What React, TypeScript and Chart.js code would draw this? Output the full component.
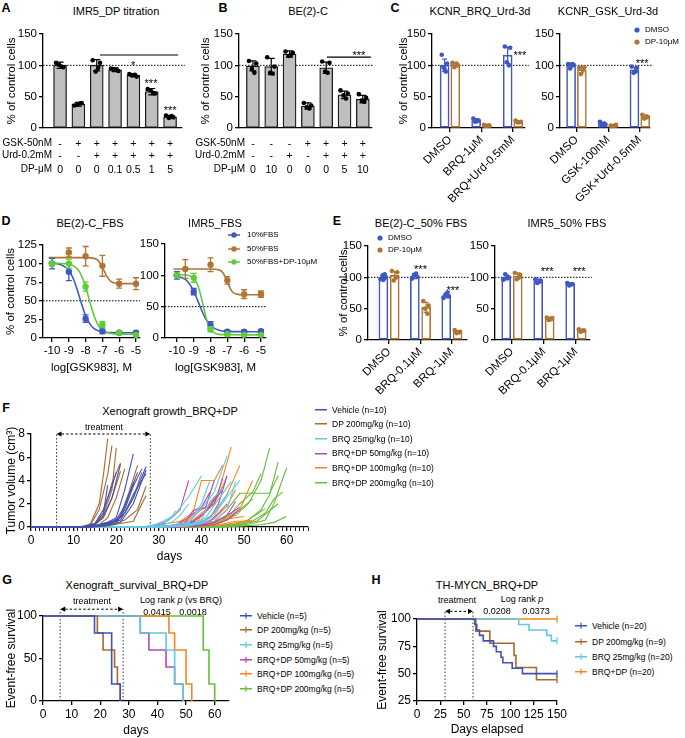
import React, { useEffect, useRef } from 'react';
import { Chart, registerables } from 'chart.js';

Chart.register(...registerables);

const FONT = '"Liberation Sans", Arial, Helvetica, sans-serif';

/* ====================== DATA ====================== */
// Panel A – IMR5_DP titration
const A_GSK = ['-', '+', '+', '+', '+', '+', '+'];
const A_URD = ['-', '-', '+', '+', '+', '+', '+'];
const A_DP = ['0', '0', '0', '0.1', '0.5', '1', '5'];
const A_MEAN = [100, 38, 100, 93, 84, 58, 18];
const A_SD = [5, 3, 9, 3, 2, 5, 2];
const A_DOTS = [[104, 97, 101, 98], [36, 40, 37, 39], [108, 104, 90, 96], [95, 91, 94, 93], [86, 82, 84, 85], [62, 55, 60, 56], [20, 17, 16, 19]];

// Panel B – BE(2)-C
const B_GSK = ['-', '-', '-', '+', '+', '+', '+'];
const B_URD = ['-', '-', '+', '-', '+', '+', '+'];
const B_DP = ['0', '10', '0', '0', '0', '5', '10'];
const B_MEAN = [99, 98, 118, 35, 96, 53, 46];
const B_SD = [8, 13, 5, 5, 9, 6, 6];
const B_DOTS = [[107, 103, 94, 88], [113, 98, 88, 87], [122, 120, 115, 117], [40, 36, 33, 31], [106, 104, 90, 88], [60, 55, 52, 47], [54, 48, 44, 42]];

const PCT_TICKS = [0, 50, 100, 150];

// Panel C
const C1_CATS = ['DMSO', 'BRQ-1μM', 'BRQ+Urd-0.5mM'];
const C1_DMSO = [100, 12, 116];
const C1_DMSO_SD = [10, 3, 13];
const C1_DMSO_DOTS = [[117, 103, 97, 90, 94], [15, 12, 10, 11], [130, 128, 105, 100]];
const C1_DP = [101, 4, 10];
const C1_DP_SD = [3, 1, 2];
const C1_DP_DOTS = [[104, 100, 97, 103], [5, 4, 3, 4], [12, 10, 9, 9]];
const C2_CATS = ['DMSO', 'GSK-100nM', 'GSK+Urd-0.5mM'];
const C2_DMSO = [100, 7, 93];
const C2_DMSO_SD = [3, 2, 4];
const C2_DMSO_DOTS = [[102, 101, 95, 102], [10, 6, 5, 7], [98, 96, 88, 90]];
const C2_DP = [93, 4, 18];
const C2_DP_SD = [5, 1, 3];
const C2_DP_DOTS = [[96, 97, 86, 93], [4, 5, 3, 4], [21, 18, 15, 17]];

// Panel D
const D_X = [-10, -9, -8, -7, -6, -5];
const D1_YTICKS = [0, 25, 50, 75, 100, 125];
const D1_BLUE = [100, 89, 26, 9, 7, 7];
const D1_BLUE_SD = [7, 12, 5, 3, 2, 2];
const D1_BROWN_X = [-9, -8, -7, -6, -5];
const D1_BROWN = [115, 110, 97, 73, 73];
const D1_BROWN_SD = [6, 13, 14, 6, 8];
const D1_GREEN = [100, 100, 69, 18, 7, 4];
const D1_GREEN_SD = [3, 6, 6, 4, 2, 1];
const D1_BLUE_FIT_X = [-10.2, -9.5, -9, -8.75, -8.5, -8.25, -8, -7.75, -7.5, -7, -6, -4.9];
const D1_BLUE_FIT = [100.8, 98.7, 90.7, 80.7, 65, 46.5, 30, 19, 12.7, 8.2, 7, 7];
const D1_GREEN_FIT_X = [-10.2, -9, -8.5, -8.25, -8, -7.75, -7.5, -7.25, -7, -6.5, -6, -4.9];
const D1_GREEN_FIT = [101, 99.5, 93, 84, 69, 49, 30, 17.5, 10.7, 6.1, 5.2, 5];
const D1_BROWN_FIT_X = [-10.2, -8, -7.5, -7.25, -7, -6.75, -6.5, -6.25, -6, -4.9];
const D1_BROWN_FIT = [108, 108, 107, 104, 95.4, 83.4, 76.2, 73.8, 73.3, 73];

const D2_BLUE = [100, 74, 21, 10, 10, 11];
const D2_BLUE_SD = [6, 5, 5, 2, 2, 2];
const D2_BROWN_X = [-9.5, -8, -7, -6, -5];
const D2_BROWN = [110, 117, 92, 70, 70];
const D2_BROWN_SD = [15, 11, 6, 7, 5];
const D2_GREEN = [100, 96, 14, 6, 5, 5];
const D2_GREEN_SD = [3, 7, 4, 2, 1, 1];
const D2_BLUE_FIT_X = [-10.2, -9.5, -9.25, -9, -8.75, -8.5, -8.25, -8, -7.5, -7, -4.9];
const D2_BLUE_FIT = [100, 93.4, 86.3, 74.7, 58.9, 42.3, 28.8, 20, 12.4, 10.6, 10];
const D2_GREEN_FIT_X = [-10.2, -9.25, -9, -8.75, -8.5, -8.25, -8, -7.75, -7.5, -7, -4.9];
const D2_GREEN_FIT = [101, 99.4, 95.4, 83.8, 59, 30.6, 13.9, 7.7, 5.8, 5.1, 5];
const D2_BROWN_FIT_X = [-10.2, -8, -7.5, -7.25, -7, -6.75, -6.5, -6, -4.9];
const D2_BROWN_FIT = [110, 110, 108.7, 103.8, 89.5, 75.2, 70.3, 69, 69];

// Panel E
const E_CATS = ['DMSO', 'BRQ-0.1μM', 'BRQ-1μM'];
const E1_DMSO = [100, 102, 71];
const E1_DMSO_SD = [3, 4, 4];
const E1_DMSO_DOTS = [[97, 100, 103, 105, 96], [98, 101, 104, 106], [67, 70, 72, 76]];
const E1_DP = [103, 52, 13];
const E1_DP_SD = [6, 8, 2];
const E1_DP_DOTS = [[110, 108, 95, 100], [62, 55, 50, 42], [16, 13, 11, 12]];
const E2_DMSO = [100, 94, 89];
const E2_DMSO_SD = [4, 3, 2];
const E2_DMSO_DOTS = [[96, 100, 105, 99], [97, 95, 91, 93], [91, 89, 87, 89]];
const E2_DP = [102, 34, 15];
const E2_DP_SD = [5, 2, 2];
const E2_DP_DOTS = [[107, 104, 97, 100], [36, 35, 32, 33], [17, 15, 13, 15]];

// Panel F – tumour volume, one [day, cm3] list per mouse
const F_VEHICLE = [
  [[0, 0], [10, 0], [13, 0.05], [15, 0.3], [17, 1.2], [18, 3.6]],
  [[0, 0], [12, 0], [15, 0.2], [17, 0.9], [19, 2.5], [21, 5.4]],
  [[0, 0], [12, 0], [15, 0.1], [18, 0.4], [20, 0.8], [22, 3.2], [24, 6.3]],
  [[0, 0], [13, 0], [16, 0.2], [19, 0.5], [21, 0.8], [23, 2.8], [25, 4.7]],
  [[0, 0], [13, 0], [16, 0.1], [19, 0.4], [21, 0.6], [24, 2.5], [27, 5.2]],
  [[0, 0], [14, 0], [17, 0.2], [20, 0.5], [22, 1.2], [24, 2.8], [27, 4.6]],
  [[0, 0], [12, 0], [15, 0.3], [17, 1.5], [19, 3.5], [20, 4.7]],
  [[0, 0], [14, 0], [17, 0.1], [20, 0.3], [22, 1.5], [24, 3.5], [26, 5.0]],
  [[0, 0], [13, 0], [16, 0.1], [19, 0.3], [21, 0.4], [24, 2.0], [27, 4.9]],
  [[0, 0], [14, 0], [17, 0.2], [20, 0.6], [22, 1.8], [24, 3.8]],
];
const F_DP200 = [
  [[0, 0], [11, 0], [14, 0.2], [16, 1.5], [18, 4.5], [19, 7.0]],
  [[0, 0], [12, 0], [14, 0.3], [16, 2.0], [17, 4.5], [18, 7.6]],
  [[0, 0], [12, 0], [15, 0.2], [17, 1.0], [19, 3.2], [20, 6.8]],
  [[0, 0], [13, 0], [16, 0.2], [18, 0.8], [20, 2.5], [22, 5.0]],
  [[0, 0], [13, 0], [16, 0.1], [19, 0.4], [21, 1.0], [23, 3.0], [25, 5.3]],
  [[0, 0], [14, 0], [17, 0.2], [20, 0.5], [22, 1.2], [24, 2.5], [26, 4.7]],
  [[0, 0], [14, 0], [17, 0.1], [20, 0.3], [22, 0.6], [25, 1.5], [27, 3.5]],
  [[0, 0], [15, 0], [18, 0.1], [21, 0.3], [24, 0.5], [27, 2.7]],
  [[0, 0], [13, 0], [15, 0.3], [17, 1.2], [19, 3.8], [21, 5.5]],
  [[0, 0], [12, 0], [15, 0.2], [17, 0.8], [19, 2.5], [21, 4.8]],
];
const F_BRQ25 = [
  [[0, 0], [26, 0], [29, 0.2], [31, 0.5], [33, 0.9], [34, 1.4]],
  [[0, 0], [27, 0], [30, 0.3], [32, 0.5], [34, 1.2], [37, 2.6], [40, 4.4]],
  [[0, 0], [28, 0], [32, 0.1], [35, 0.3], [37, 0.3], [40, 2.0], [42, 4.0]],
  [[0, 0], [28, 0], [33, 0.1], [37, 0.4], [40, 1.6], [43, 3.0], [46, 6.1]],
  [[0, 0], [30, 0], [35, 0.1], [38, 0.3], [41, 0.8], [44, 2.4], [47, 3.9]],
  [[0, 0], [30, 0], [36, 0.1], [40, 0.3], [43, 1.0], [46, 2.6], [49, 4.0]],
  [[0, 0], [29, 0], [34, 0.1], [37, 0.2], [40, 0.6], [42, 2.2], [45, 3.3]],
  [[0, 0], [27, 0], [31, 0.2], [33, 0.4], [35, 1.0], [37, 2.0]],
  [[0, 0], [32, 0], [37, 0.1], [40, 0.3], [43, 0.5], [46, 1.5], [48, 3.9]],
  [[0, 0], [31, 0], [36, 0.1], [40, 0.4], [42, 0.9], [44, 1.8], [46, 2.8]],
];
const F_BD50 = [
  [[0, 0], [28, 0], [31, 0.3], [33, 0.8], [35, 1.5], [37, 4.0]],
  [[0, 0], [30, 0], [34, 0.2], [37, 0.8], [39, 1.4], [41, 1.7], [43, 4.0]],
  [[0, 0], [32, 0], [36, 0.1], [39, 0.3], [42, 0.8], [44, 2.0], [46, 4.4]],
  [[0, 0], [33, 0], [38, 0.1], [42, 0.3], [45, 0.8], [47, 1.2], [49, 1.7]],
  [[0, 0], [30, 0], [35, 0.2], [38, 0.5], [41, 1.3], [43, 2.4], [45, 3.2]],
  [[0, 0], [34, 0], [39, 0.1], [42, 0.5], [44, 1.2], [46, 2.0]],
  [[0, 0], [31, 0], [35, 0.2], [38, 0.4], [40, 1.0], [43, 2.0], [45, 4.2]],
  [[0, 0], [33, 0], [37, 0.1], [40, 0.2], [43, 0.4], [46, 1.0], [48, 2.2]],
  [[0, 0], [29, 0], [33, 0.1], [36, 0.3], [38, 1.4], [40, 1.7], [42, 3.0]],
  [[0, 0], [35, 0], [40, 0.1], [43, 0.2], [46, 0.6], [49, 1.5]],
];
const F_BD100 = [
  [[0, 0], [28, 0], [32, 0.3], [35, 0.5], [38, 1.2], [40, 4.0], [43, 4.0], [45, 5.3]],
  [[0, 0], [30, 0], [35, 0.2], [38, 0.6], [41, 1.5], [44, 3.0], [47, 6.9]],
  [[0, 0], [32, 0], [37, 0.2], [40, 0.4], [43, 1.2], [46, 2.8], [49, 5.3]],
  [[0, 0], [34, 0], [39, 0.1], [43, 0.3], [46, 0.8], [49, 1.5], [52, 4.0]],
  [[0, 0], [35, 0], [40, 0.1], [44, 0.2], [48, 0.5], [50, 0.5], [52, 0.6]],
  [[0, 0], [31, 0], [36, 0.2], [39, 0.5], [42, 1.8], [44, 2.7], [46, 4.4]],
  [[0, 0], [33, 0], [38, 0.1], [42, 0.2], [45, 0.6], [48, 0.8], [50, 0.9]],
  [[0, 0], [29, 0], [34, 0.2], [37, 0.6], [40, 1.5], [43, 2.0], [45, 3.5]],
  [[0, 0], [36, 0], [41, 0.1], [45, 0.2], [49, 0.4], [52, 0.5]],
  [[0, 0], [32, 0], [37, 0.1], [40, 0.3], [43, 0.7], [46, 1.8], [48, 3.2]],
];
const F_BD200 = [
  [[0, 0], [35, 0], [40, 0.2], [43, 0.5], [46, 1.5], [49, 2.9], [56, 2.9], [58, 4.4]],
  [[0, 0], [38, 0], [42, 0.2], [45, 0.5], [48, 1.0], [51, 2.0], [54, 4.0], [56, 6.8]],
  [[0, 0], [36, 0], [41, 0.2], [44, 0.4], [47, 1.2], [49, 2.0], [52, 3.0], [54, 4.6]],
  [[0, 0], [40, 0], [44, 0.1], [48, 0.3], [51, 0.6], [54, 1.5], [56, 2.8], [58, 5.6]],
  [[0, 0], [42, 0], [47, 0.1], [50, 0.3], [53, 0.5], [56, 1.4], [58, 2.0]],
  [[0, 0], [45, 0], [50, 0.1], [54, 0.2], [57, 0.4], [60, 0.9]],
  [[0, 0], [43, 0], [48, 0.1], [52, 0.3], [55, 0.6], [57, 2.0], [60, 5.1]],
  [[0, 0], [39, 0], [43, 0.2], [46, 0.6], [49, 1.5], [52, 2.4]],
  [[0, 0], [44, 0], [49, 0.2], [52, 0.5], [55, 1.2], [57, 2.4], [59, 3.0]],
  [[0, 0], [41, 0], [46, 0.1], [50, 0.4], [53, 1.1], [55, 1.6]],
];
const F_YTICKS = [0, 2, 4, 6, 8];
const F_XLABELS = [0, 10, 20, 30, 40, 50, 60];
const F_XMAX = 65;

// Panel G – Kaplan-Meier [day, % event-free] at each event
const G_VEH = [[0, 100], [18, 80], [24, 20], [27, 0]];
const G_DP = [[0, 100], [19, 80], [21, 60], [25, 40], [26, 20], [27, 0]];
const G_BRQ = [[0, 100], [34, 80], [43, 60], [46, 20], [49, 0]];
const G_BD50 = [[0, 100], [34, 80], [37, 60], [43, 40], [46, 20], [49, 0]];
const G_BD100 = [[0, 100], [44, 80], [46, 60], [50, 20], [52, 0]];
const G_BD200 = [[0, 100], [56, 60], [58, 20], [60, 0]];
const G_YTICKS = [0, 50, 100];
const G_XTICKS = [0, 10, 20, 30, 40, 50, 60];

// Panel H
const H_VEH = [[0, 100], [62, 95], [64, 90], [67, 85], [71, 80], [82, 75], [85, 70], [90, 65], [92, 60], [102, 55], [113, 50], [150, 50]];
const H_DP = [[0, 100], [63, 88.9], [78, 77.8], [104, 66.7], [106, 55.6], [128, 44.4], [150, 44.4]];
const H_BRQ = [[0, 100], [109, 95], [120, 90], [139, 85], [144, 80], [150, 80]];
const H_BD = [[0, 100], [150, 100]];
const H_YTICKS = [25, 50, 75, 100];
const H_XTICKS = [0, 25, 50, 75, 100, 125, 150];

/* ====================== STYLE ====================== */
const BLUE = '#3f57c3';
const BROWN = '#b07434';
const DGREEN = '#5fcb3c';
const C_VEH = '#3e52b8';
const C_DP = '#a8692f';
const C_BRQ = '#63c9e3';
const C_B50 = '#b24ab0';
const C_B100 = '#f5861f';
const C_B200 = '#66bf3c';
const JIT_GRAY = [-0.22, 0.18, -0.06, 0.08];
const JIT_OPEN = [-0.09, 0.08, -0.03, 0.04, 0.0];

type Box = { L: number; T: number; R: number; B: number; yW: number; xH: number; pt?: number; pr?: number };
const A_BOX: Box = { L: 43, T: 34, R: 182, B: 128, yW: 38, xH: 10 };
const A_XR = [-0.93, 6.65];
const B_BOX: Box = { L: 239, T: 34, R: 372, B: 128, yW: 40, xH: 10 };
const B_XR = [-0.76, 6.5];
const C1_BOX: Box = { L: 432, T: 34, R: 525, B: 128, yW: 35, xH: 80 };
const C1_XR = [-0.57, 2.38];
const C2_BOX: Box = { L: 560, T: 34, R: 650, B: 128, yW: 30, xH: 80 };
const C2_XR = [-0.52, 2.32];
const D1_BOX: Box = { L: 43, T: 245, R: 140, B: 338, yW: 39, xH: 37 };
const D1_XR = [-10.54, -4.76];
const D2_BOX: Box = { L: 165, T: 244, R: 266, B: 338, yW: 30, xH: 37 };
const D2_XR = [-10.71, -4.7];
const E1_BOX: Box = { L: 368, T: 246, R: 467, B: 340, yW: 31, xH: 70 };
const E1_XR = [-0.67, 2.48];
const E2_BOX: Box = { L: 495, T: 246, R: 590, B: 340, yW: 30, xH: 70 };
const E2_XR = [-0.53, 2.44];
const F_BOX: Box = { L: 31, T: 434, R: 308, B: 527, yW: 27, xH: 37 };
const G_BOX: Box = { L: 43, T: 616, R: 229, B: 701, yW: 39, xH: 37 };
const H_BOX: Box = { L: 417, T: 619, R: 557, B: 701, yW: 42, xH: 36, pr: 12 };

/* ====================== HELPERS ====================== */
const pts = (xs: number[], ys: number[]) => xs.map((x, i) => ({ x, y: ys[i] }));
const pairs = (a: number[][]) => a.map(([x, y]) => ({ x, y }));

function drawItems(chart: any, items: any[]) {
  const ctx = chart.ctx;
  const xs = chart.scales.x, ys = chart.scales.y;
  const px = (v: number) => xs.getPixelForValue(v);
  const py = (v: number) => ys.getPixelForValue(v);
  for (const it of items) {
    ctx.save();
    ctx.strokeStyle = it.c || '#000';
    ctx.fillStyle = it.c || '#000';
    ctx.lineWidth = it.w || 1;
    if (it.t === 'line') {
      ctx.setLineDash(it.dash || []);
      ctx.beginPath();
      ctx.moveTo(px(it.x1), py(it.y1));
      ctx.lineTo(px(it.x2), py(it.y2));
      ctx.stroke();
    } else if (it.t === 'text') {
      const size = it.size || 11;
      ctx.font = `${size}px ${FONT}`;
      ctx.textAlign = 'center';
      ctx.textBaseline = 'alphabetic';
      ctx.fillText(it.s, px(it.x), py(it.y) + size * 0.6);
    } else if (it.t === 'arrow') {
      const x1 = px(it.x1), x2 = px(it.x2), y = py(it.y), hl = 5, hw = 2.6;
      ctx.setLineDash([2.5, 2]);
      ctx.beginPath();
      ctx.moveTo(x1 + hl, y);
      ctx.lineTo(x2 - hl, y);
      ctx.stroke();
      ctx.setLineDash([]);
      ctx.beginPath();
      ctx.moveTo(x1, y); ctx.lineTo(x1 + hl, y - hw); ctx.lineTo(x1 + hl, y + hw); ctx.closePath(); ctx.fill();
      ctx.beginPath();
      ctx.moveTo(x2, y); ctx.lineTo(x2 - hl, y - hw); ctx.lineTo(x2 - hl, y + hw); ctx.closePath(); ctx.fill();
    }
    ctx.restore();
  }
}

function drawErr(chart: any, args: any) {
  const ds: any = chart.data.datasets[args.index];
  if (!ds || !ds.err) return;
  const ctx = chart.ctx, ys = chart.scales.y;
  const c = (ds.cap || 6) / 2;
  ctx.save();
  ctx.strokeStyle = ds.errColor || '#000';
  ctx.lineWidth = ds.errWidth || 1.2;
  args.meta.data.forEach((el: any, i: number) => {
    const d = ds.data[i];
    const sd = ds.err[i];
    if (!el || sd == null) return;
    const x = el.x;
    const y1 = ys.getPixelForValue(d.y + sd), y2 = ys.getPixelForValue(d.y - sd);
    ctx.beginPath();
    ctx.moveTo(x, y1); ctx.lineTo(x, y2);
    ctx.moveTo(x - c, y1); ctx.lineTo(x + c, y1);
    ctx.moveTo(x - c, y2); ctx.lineTo(x + c, y2);
    ctx.stroke();
  });
  ctx.restore();
}

const extras = (under: any[] = [], over: any[] = []) => ({
  id: 'extras',
  beforeDatasetsDraw: (chart: any) => drawItems(chart, under),
  afterDatasetDraw: (chart: any, args: any) => drawErr(chart, args),
  afterDatasetsDraw: (chart: any) => drawItems(chart, over),
});

const yAxis = (ticks: number[], yW: number, title?: string, size = 11.5) => ({
  type: 'linear', position: 'left',
  min: ticks[0], max: ticks[ticks.length - 1],
  afterBuildTicks: (s: any) => { s.ticks = ticks.map((v) => ({ value: v })); },
  afterFit: (s: any) => { s.width = yW; },
  border: { display: true, color: '#000', width: 1.3 },
  grid: { display: true, drawOnChartArea: false, drawTicks: true, tickLength: 4, color: '#000', lineWidth: 1.3 },
  ticks: { color: '#000', font: { family: FONT, size }, padding: 2, autoSkip: false, callback: (v: number) => String(v) },
  title: title ? { display: true, text: title, color: '#000', font: { family: FONT, size }, padding: 0 } : { display: false },
});

const xBar = (xr: number[], xH: number, labels?: string[]) => ({
  type: 'linear', position: 'bottom', min: xr[0], max: xr[1], offset: false,
  ...(labels ? { afterBuildTicks: (s: any) => { s.ticks = labels.map((_, i) => ({ value: i })); } } : {}),
  afterFit: (s: any) => { s.height = xH; },
  border: { display: true, color: '#000', width: 1.3 },
  grid: { display: !!labels, offset: false, drawOnChartArea: false, drawTicks: true, tickLength: 4, color: '#000', lineWidth: 1.3 },
  ticks: {
    display: !!labels, autoSkip: false, minRotation: 45, maxRotation: 45, color: '#000',
    font: { family: FONT, size: 11.5 }, padding: 1,
    callback: (v: number) => (labels ? labels[Math.round(v)] : ''),
  },
});

const xNum = (min: number, max: number, ticks: number[], xH: number, title: string, size: number, labelSet?: number[]) => ({
  type: 'linear', position: 'bottom', min, max, offset: false,
  afterBuildTicks: (s: any) => { s.ticks = ticks.map((v) => ({ value: v })); },
  afterFit: (s: any) => { s.height = xH; },
  border: { display: true, color: '#000', width: 1.3 },
  grid: {
    display: true, offset: false, drawOnChartArea: false, drawTicks: true, tickLength: 4, color: '#000',
    lineWidth: (c: any) => (!labelSet || (c.tick && labelSet.includes(c.tick.value)) ? 1.3 : 0.9),
  },
  ticks: {
    autoSkip: false, maxRotation: 0, minRotation: 0, color: '#000', font: { family: FONT, size }, padding: 2,
    callback: (v: number) => (labelSet ? (labelSet.includes(v) ? String(v) : '') : String(v)),
  },
  title: { display: true, text: title, color: '#000', font: { family: FONT, size }, padding: 0 },
});

function dotsData(dots: number[][], offs: number[], shift = 0) {
  const out: any[] = [];
  dots.forEach((arr, i) => arr.forEach((v, j) => out.push({ x: i + shift + offs[j % offs.length], y: v })));
  return out;
}

function ChartBox({ box, build }: { box: Box; build: () => any }) {
  const ref = useRef<HTMLCanvasElement | null>(null);
  const pt = box.pt ?? 10, pr = box.pr ?? 10;
  const left = box.L - box.yW, top = box.T - pt;
  const w = box.R - box.L + box.yW + pr, h = box.B - box.T + pt + box.xH;
  useEffect(() => {
    const cfg = build();
    cfg.options = {
      responsive: false, maintainAspectRatio: false, animation: false, devicePixelRatio: 1, events: [],
      layout: { padding: { top: pt, right: pr, left: 0, bottom: 0 } },
      ...cfg.options,
      plugins: { legend: { display: false }, tooltip: { enabled: false }, title: { display: false } },
    };
    const chart = new Chart(ref.current as HTMLCanvasElement, cfg);
    return () => chart.destroy();
  }, []);
  return <canvas ref={ref} width={w} height={h} style={{ position: 'absolute', left, top, width: w, height: h }} />;
}

/* ---------- chart builders ---------- */
const grayBars = (box: Box, xr: number[], mean: number[], sd: number[], dots: number[][], yTitle: string, under: any[], over: any[]) => () => ({
  type: 'bar',
  data: {
    datasets: [
      {
        type: 'bar', data: mean.map((m, i) => ({ x: i, y: m })), backgroundColor: '#bfbfbf', borderColor: '#1a1a1a',
        borderWidth: 1.3, borderSkipped: false, barThickness: 13, grouped: false, order: 2, err: sd, cap: 7, errColor: '#000',
      },
      { type: 'scatter', data: dotsData(dots, JIT_GRAY), pointRadius: 2.3, pointBackgroundColor: '#000', pointBorderWidth: 0, order: 1 },
    ],
  },
  options: { scales: { x: xBar(xr, box.xH), y: yAxis(PCT_TICKS, box.yW, yTitle) } },
  plugins: [extras(under, over)],
});

const openBars = (box: Box, xr: number[], cats: string[], off: number,
  a: number[], aSd: number[], aDots: number[][], b: number[], bSd: number[], bDots: number[][],
  yTitle: string | undefined, under: any[], over: any[]) => () => ({
  type: 'bar',
  data: {
    datasets: [
      { type: 'bar', data: a.map((m, i) => ({ x: i - off, y: m })), backgroundColor: '#fff', borderColor: BLUE, borderWidth: 1.6, borderSkipped: false, barThickness: 9, grouped: false, order: 2, err: aSd, cap: 5, errColor: BLUE },
      { type: 'bar', data: b.map((m, i) => ({ x: i + off, y: m })), backgroundColor: '#fff', borderColor: BROWN, borderWidth: 1.6, borderSkipped: false, barThickness: 9, grouped: false, order: 2, err: bSd, cap: 5, errColor: BROWN },
      { type: 'scatter', data: dotsData(aDots, JIT_OPEN, -off), pointRadius: 2.3, pointBackgroundColor: BLUE, pointBorderWidth: 0, order: 1 },
      { type: 'scatter', data: dotsData(bDots, JIT_OPEN, off), pointRadius: 2.3, pointBackgroundColor: BROWN, pointBorderWidth: 0, order: 1 },
    ],
  },
  options: { scales: { x: xBar(xr, box.xH, cats), y: yAxis(PCT_TICKS, box.yW, yTitle) } },
  plugins: [extras(under, over)],
});

const doseChart = (box: Box, xr: number[], yTicks: number[], yTitle: string | undefined, series: any[]) => () => ({
  type: 'line',
  data: {
    datasets: [
      ...series.map((s) => ({
        type: 'line', data: pts(s.fx, s.fy), borderColor: s.color, borderWidth: 1.6, pointRadius: 0,
        cubicInterpolationMode: 'monotone', fill: false, order: 2,
      })),
      ...series.map((s) => ({
        type: 'scatter', data: pts(s.x, s.y), pointRadius: 3.2, pointBackgroundColor: s.color, pointBorderWidth: 0,
        order: 1, err: s.sd, cap: 6, errColor: s.color, errWidth: 1.3,
      })),
    ],
  },
  options: {
    scales: {
      x: xNum(xr[0], xr[1], D_X, box.xH, 'log[GSK983], M', 11.5),
      y: yAxis(yTicks, box.yW, yTitle),
    },
  },
  plugins: [extras([{ t: 'line', x1: xr[0], y1: 50, x2: xr[1], y2: 50, dash: [1.5, 1.5], w: 1 }], [])],
});

/* ---------- HTML text helpers ---------- */
const Txt = ({ x, y, children, size = 11, anchor = 'middle', bold = false }: any) => (
  <div
    style={{
      position: 'absolute', left: x, top: y, whiteSpace: 'nowrap', lineHeight: 1, fontFamily: FONT,
      fontSize: size, fontWeight: bold ? 700 : 400, color: '#000',
      transform: `translate(${anchor === 'start' ? '0' : anchor === 'end' ? '-100%' : '-50%'}, -50%)`,
    }}
  >
    {children}
  </div>
);

const LegLine = ({ x, y, color, label, tick = false, dot = false, gap = 4, size = 8.5 }: any) => (
  <div style={{ position: 'absolute', left: x, top: y, transform: 'translateY(-50%)', display: 'flex', alignItems: 'center', whiteSpace: 'nowrap', fontSize: size, lineHeight: 1, fontFamily: FONT }}>
    <svg width={12} height={8} style={{ marginRight: gap, display: 'block' }}>
      <line x1={0} y1={4} x2={12} y2={4} stroke={color} strokeWidth={1.5} />
      {tick && <line x1={6} y1={1} x2={6} y2={7} stroke={color} strokeWidth={1.2} />}
      {dot && <circle cx={6} cy={4} r={2.7} fill={color} />}
    </svg>
    <span>{label}</span>
  </div>
);

const LegDot = ({ x, y, color, label, size = 8 }: any) => (
  <div style={{ position: 'absolute', left: x - 3, top: y, transform: 'translateY(-50%)', display: 'flex', alignItems: 'center', whiteSpace: 'nowrap', fontSize: size, lineHeight: 1, fontFamily: FONT }}>
    <svg width={6} height={6} style={{ marginRight: 5, display: 'block' }}>
      <circle cx={3} cy={3} r={2.6} fill={color} />
    </svg>
    <span>{label}</span>
  </div>
);

const colX = (box: Box, xr: number[], i: number) => box.L + ((i - xr[0]) / (xr[1] - xr[0])) * (box.R - box.L);

const RowTable = ({ box, xr, labelX, rows }: any) => (
  <>
    {rows.map((r: any, k: number) => (
      <React.Fragment key={k}>
        <Txt x={labelX} y={r.y} size={10} anchor="end">{r.label}</Txt>
        {r.vals.map((v: string, i: number) => (
          <Txt key={i} x={colX(box, xr, i)} y={r.y} size={10.5}>{v}</Txt>
        ))}
      </React.Fragment>
    ))}
  </>
);

/* ====================== APP ====================== */
const dotted100 = (xr: number[], x2?: number) => [{ t: 'line', x1: xr[0], y1: 100, x2: x2 ?? xr[1], y2: 100, dash: [1.5, 1.5], w: 1 }];

export default function App() {
  const fGroups = [
    { mice: F_VEHICLE, color: C_VEH },
    { mice: F_DP200, color: C_DP },
    { mice: F_BRQ25, color: C_BRQ },
    { mice: F_BD50, color: C_B50 },
    { mice: F_BD100, color: C_B100 },
    { mice: F_BD200, color: C_B200 },
  ];
  const fTicks: number[] = [];
  for (let d = 0; d <= F_XMAX; d++) fTicks.push(d);

  const buildF = () => ({
    type: 'line',
    data: {
      datasets: fGroups.flatMap((g) => g.mice.map((m) => ({
        data: pairs(m), borderColor: g.color, borderWidth: 1.1, pointRadius: 0, fill: false, clip: false, tension: 0,
      }))),
    },
    options: {
      scales: {
        x: xNum(0, F_XMAX, fTicks, F_BOX.xH, 'days', 12, F_XLABELS),
        y: yAxis(F_YTICKS, F_BOX.yW, 'Tumor volume (cm³)', 12),
      },
    },
    plugins: [extras([
      { t: 'line', x1: 6, y1: 0, x2: 6, y2: 8, dash: [1.5, 2], w: 1, c: '#333' },
      { t: 'line', x1: 28, y1: 0, x2: 28, y2: 8, dash: [1.5, 2], w: 1, c: '#333' },
      { t: 'arrow', x1: 6, x2: 28, y: 8, w: 1 },
    ], [])],
  });

  const survival = (curves: any[], box: Box, xmax: number, xTicks: number[], yTicks: number[], xTitle: string, under: any[], censor: boolean) => () => ({
    type: 'line',
    data: {
      datasets: curves.map((c) => ({
        data: pairs(c.d), borderColor: c.color, borderWidth: 1.6, stepped: true, fill: false, clip: false,
        pointStyle: 'line', rotation: 90, pointBorderColor: c.color, pointBorderWidth: 1.3,
        pointRadius: (ctx: any) => (censor && ctx.dataIndex === c.d.length - 1 ? 3.5 : 0),
      })),
    },
    options: {
      scales: {
        x: xNum(0, xmax, xTicks, box.xH, xTitle, 12),
        y: yAxis(yTicks, box.yW, 'Event-free survival', 12),
      },
    },
    plugins: [extras(under, [])],
  });

  const gCurves = [
    { d: G_VEH, color: C_VEH, label: 'Vehicle (n=5)' },
    { d: G_DP, color: C_DP, label: 'DP 200mg/kg (n=5)' },
    { d: G_BRQ, color: C_BRQ, label: 'BRQ 25mg/kg (n=5)' },
    { d: G_BD50, color: C_B50, label: 'BRQ+DP 50mg/kg (n=5)' },
    { d: G_BD100, color: C_B100, label: 'BRQ+DP 100mg/kg (n=5)' },
    { d: G_BD200, color: C_B200, label: 'BRQ+DP 200mg/kg (n=5)' },
  ];
  const hCurves = [
    { d: H_VEH, color: C_VEH, label: 'Vehicle (n=20)' },
    { d: H_DP, color: C_DP, label: 'DP 200mg/kg (n=9)' },
    { d: H_BRQ, color: C_BRQ, label: 'BRQ 25mg/kg (n=20)' },
    { d: H_BD, color: C_B100, label: 'BRQ+DP (n=20)' },
  ];
  const fLegend = ['Vehicle (n=10)', 'DP 200mg/kg (n=10)', 'BRQ 25mg/kg (n=10)', 'BRQ+DP 50mg/kg (n=10)', 'BRQ+DP 100mg/kg (n=10)', 'BRQ+DP 200mg/kg (n=10)'];

  const d1Series = [
    { x: D_X, y: D1_GREEN, sd: D1_GREEN_SD, fx: D1_GREEN_FIT_X, fy: D1_GREEN_FIT, color: DGREEN },
    { x: D1_BROWN_X, y: D1_BROWN, sd: D1_BROWN_SD, fx: D1_BROWN_FIT_X, fy: D1_BROWN_FIT, color: BROWN },
    { x: D_X, y: D1_BLUE, sd: D1_BLUE_SD, fx: D1_BLUE_FIT_X, fy: D1_BLUE_FIT, color: BLUE },
  ];
  const d2Series = [
    { x: D_X, y: D2_GREEN, sd: D2_GREEN_SD, fx: D2_GREEN_FIT_X, fy: D2_GREEN_FIT, color: DGREEN },
    { x: D2_BROWN_X, y: D2_BROWN, sd: D2_BROWN_SD, fx: D2_BROWN_FIT_X, fy: D2_BROWN_FIT, color: BROWN },
    { x: D_X, y: D2_BLUE, sd: D2_BLUE_SD, fx: D2_BLUE_FIT_X, fy: D2_BLUE_FIT, color: BLUE },
  ];

  return (
    <div style={{ position: 'absolute', left: 0, top: 0, width: 685, height: 738, overflow: 'hidden', background: '#fff', fontFamily: FONT }}>
      {/* A */}
      <ChartBox box={A_BOX} build={grayBars(A_BOX, A_XR, A_MEAN, A_SD, A_DOTS, '% of control cells',
        dotted100(A_XR, 6.8),
        [
          { t: 'line', x1: 2.18, y1: 116.5, x2: 6.44, y2: 116.5, w: 1.2 },
          { t: 'text', x: 3.98, y: 105, s: '*' },
          { t: 'text', x: 4.96, y: 76, s: '***' },
          { t: 'text', x: 6, y: 33, s: '***' },
        ])} />
      {/* B */}
      <ChartBox box={B_BOX} build={grayBars(B_BOX, B_XR, B_MEAN, B_SD, B_DOTS, '% of control cells',
        dotted100(B_XR, 6.55),
        [
          { t: 'line', x1: 4.04, y1: 113, x2: 6.44, y2: 113, w: 1.2 },
          { t: 'text', x: 5.78, y: 120, s: '***' },
        ])} />
      {/* C */}
      <ChartBox box={C1_BOX} build={openBars(C1_BOX, C1_XR, C1_CATS, 0.17, C1_DMSO, C1_DMSO_SD, C1_DMSO_DOTS, C1_DP, C1_DP_SD, C1_DP_DOTS,
        '% of control cells', dotted100(C1_XR, 2.5), [{ t: 'text', x: 2.22, y: 120, s: '***' }])} />
      <ChartBox box={C2_BOX} build={openBars(C2_BOX, C2_XR, C2_CATS, 0.17, C2_DMSO, C2_DMSO_SD, C2_DMSO_DOTS, C2_DP, C2_DP_SD, C2_DP_DOTS,
        undefined, dotted100(C2_XR, 2.42), [{ t: 'text', x: 2.07, y: 108, s: '***' }])} />
      {/* D */}
      <ChartBox box={D1_BOX} build={doseChart(D1_BOX, D1_XR, D1_YTICKS, '% of control cells', d1Series)} />
      <ChartBox box={D2_BOX} build={doseChart(D2_BOX, D2_XR, PCT_TICKS, undefined, d2Series)} />
      {/* E */}
      <ChartBox box={E1_BOX} build={openBars(E1_BOX, E1_XR, E_CATS, 0.18, E1_DMSO, E1_DMSO_SD, E1_DMSO_DOTS, E1_DP, E1_DP_SD, E1_DP_DOTS,
        '% of control cells', dotted100(E1_XR, 2.55), [{ t: 'text', x: 1.0, y: 118, s: '***' }, { t: 'text', x: 2.03, y: 84, s: '***' }])} />
      <ChartBox box={E2_BOX} build={openBars(E2_BOX, E2_XR, E_CATS, 0.18, E2_DMSO, E2_DMSO_SD, E2_DMSO_DOTS, E2_DP, E2_DP_SD, E2_DP_DOTS,
        undefined, dotted100(E2_XR, 2.5), [{ t: 'text', x: 1.1, y: 114, s: '***' }, { t: 'text', x: 2.1, y: 114, s: '***' }])} />
      {/* F */}
      <ChartBox box={F_BOX} build={buildF} />
      {/* G */}
      <ChartBox box={G_BOX} build={survival(gCurves, G_BOX, 65, G_XTICKS, G_YTICKS, 'days', [
        { t: 'line', x1: 6, y1: 0, x2: 6, y2: 108, dash: [1.5, 2], w: 1, c: '#333' },
        { t: 'line', x1: 28, y1: 0, x2: 28, y2: 108, dash: [1.5, 2], w: 1, c: '#333' },
        { t: 'arrow', x1: 6, x2: 28, y: 108, w: 1 },
      ], false)} />
      {/* H */}
      <ChartBox box={H_BOX} build={survival(hCurves, H_BOX, 150, H_XTICKS, H_YTICKS, 'Days elapsed', [
        { t: 'line', x1: 30, y1: 25, x2: 30, y2: 107, dash: [1.5, 2], w: 1, c: '#333' },
        { t: 'line', x1: 60, y1: 25, x2: 60, y2: 107, dash: [1.5, 2], w: 1, c: '#333' },
        { t: 'arrow', x1: 30, x2: 60, y: 107, w: 1 },
      ], true)} />

      {/* panel letters */}
      <Txt x={6} y={8} size={12.5} bold>A</Txt>
      <Txt x={223} y={8} size={12.5} bold>B</Txt>
      <Txt x={395} y={8} size={12.5} bold>C</Txt>
      <Txt x={6} y={221} size={12.5} bold>D</Txt>
      <Txt x={337} y={221} size={12.5} bold>E</Txt>
      <Txt x={6} y={408} size={12.5} bold>F</Txt>
      <Txt x={7} y={580} size={12.5} bold>G</Txt>
      <Txt x={376} y={580} size={12.5} bold>H</Txt>

      {/* titles */}
      <Txt x={116} y={11}>IMR5_DP titration</Txt>
      <Txt x={308} y={11}>BE(2)-C</Txt>
      <Txt x={480} y={11}>KCNR_BRQ_Urd-3d</Txt>
      <Txt x={608} y={11}>KCNR_GSK_Urd-3d</Txt>
      <Txt x={90} y={223}>BE(2)-C_FBS</Txt>
      <Txt x={215} y={223}>IMR5_FBS</Txt>
      <Txt x={421} y={223}>BE(2)-C_50% FBS</Txt>
      <Txt x={567} y={223}>IMR5_50% FBS</Txt>
      <Txt x={170} y={411}>Xenograft growth_BRQ+DP</Txt>
      <Txt x={137} y={585}>Xenograft_survival_BRQ+DP</Txt>
      <Txt x={487} y={585}>TH-MYCN_BRQ+DP</Txt>

      {/* A / B condition tables */}
      <RowTable box={A_BOX} xr={A_XR} labelX={52} rows={[
        { label: 'GSK-50nM', vals: A_GSK, y: 142.5 },
        { label: 'Urd-0.2mM', vals: A_URD, y: 155 },
        { label: 'DP-μM', vals: A_DP, y: 169 },
      ]} />
      <RowTable box={B_BOX} xr={B_XR} labelX={245} rows={[
        { label: 'GSK-50nM', vals: B_GSK, y: 142.5 },
        { label: 'Urd-0.2mM', vals: B_URD, y: 155 },
        { label: 'DP-μM', vals: B_DP, y: 169 },
      ]} />

      {/* C legend */}
      <LegDot x={637} y={30} color={BLUE} label="DMSO" />
      <LegDot x={637} y={42} color={BROWN} label="DP-10μM" />

      {/* D legend */}
      <LegLine x={228} y={235} color={BLUE} dot label="10%FBS" gap={7} size={8} />
      <LegLine x={228} y={249} color={BROWN} dot label="50%FBS" gap={7} size={8} />
      <LegLine x={228} y={262} color={DGREEN} dot label="50%FBS+DP-10μM" gap={7} size={8} />

      {/* E legend */}
      <LegDot x={380} y={238} color={BLUE} label="DMSO" />
      <LegDot x={380} y={250} color={BROWN} label="DP-10μM" />

      {/* F legend */}
      {fLegend.map((l, i) => (
        <LegLine key={l} x={315} y={409.5 + i * 14.6} color={fGroups[i].color} label={l} gap={5} />
      ))}
      <Txt x={104} y={427} size={9}>treatment</Txt>

      {/* G legend & notes */}
      {gCurves.map((c, i) => (
        <LegLine key={c.label} x={240} y={[616, 630, 645, 660, 674, 689][i]} color={c.color} tick label={c.label} gap={5} />
      ))}
      <Txt x={92} y={601} size={9}>treatment</Txt>
      <Txt x={181} y={600} size={9}>Log rank <i>p</i> (vs BRQ)</Txt>
      <Txt x={157} y={612} size={9}>0.0415</Txt>
      <Txt x={193} y={612} size={9}>0.0018</Txt>

      {/* H legend & notes */}
      {hCurves.map((c, i) => (
        <LegLine key={c.label} x={575} y={[626, 641.5, 656.5, 672][i]} color={c.color} tick label={c.label} gap={5} />
      ))}
      <Txt x={457} y={600} size={9}>treatment</Txt>
      <Txt x={522} y={599} size={9}>Log rank <i>p</i></Txt>
      <Txt x={497} y={611} size={9}>0.0208</Txt>
      <Txt x={536} y={611} size={9}>0.0373</Txt>
    </div>
  );
}
